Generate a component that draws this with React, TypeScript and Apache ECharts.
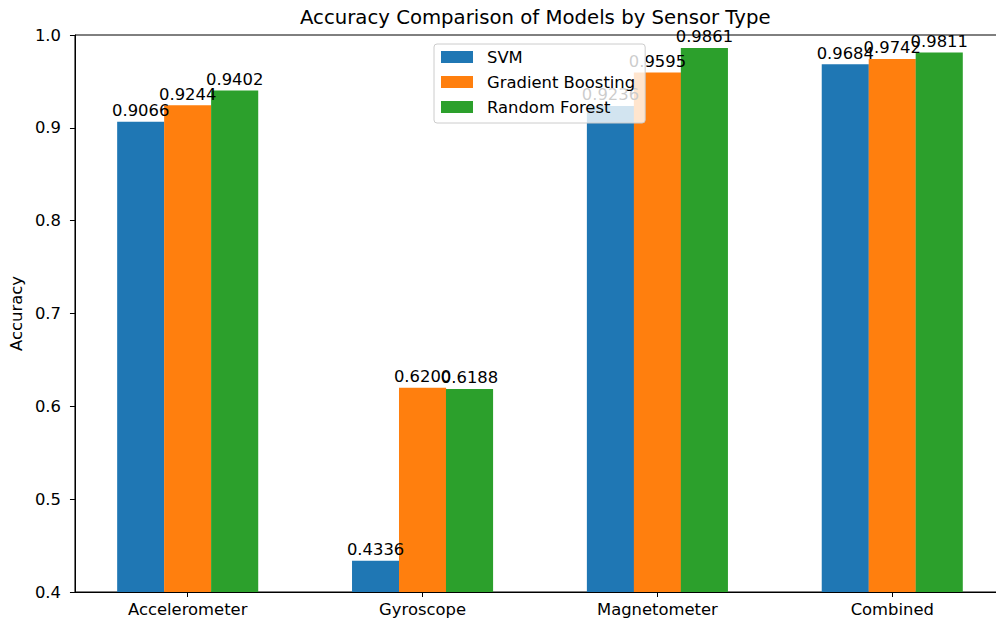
import React, { useEffect, useRef } from "react";
import * as echarts from "echarts";

const categories = ["Accelerometer", "Gyroscope", "Magnetometer", "Combined"];
const seriesNames = ["SVM", "Gradient Boosting", "Random Forest"];
const svmValues = [0.9066, 0.4336, 0.9236, 0.9684];
const gradientBoostingValues = [0.9244, 0.62, 0.9595, 0.9742];
const randomForestValues = [0.9402, 0.6188, 0.9861, 0.9811];
const seriesValues = [svmValues, gradientBoostingValues, randomForestValues];
const barOffsets = [-0.2, 0, 0.2];
const colors = ["#1f77b4", "#ff7f0e", "#2ca02c"];
const categoryPositions = [0, 1, 2, 3];

const FONT = "DejaVu Sans";
const CHART_WIDTH = 1024;
const CHART_HEIGHT = 623;
const GRID_LEFT = 72;
const GRID_TOP = 35;
const GRID_WIDTH = 933;
const GRID_HEIGHT = 557;
const X_MIN = -0.48;
const X_MAX = 3.48;
const BAR_UNITS = 0.2;

export default function App() {
  const ref = useRef<HTMLDivElement>(null);

  useEffect(() => {
    if (!ref.current) return;
    const chart = echarts.init(ref.current, undefined, { renderer: "svg" });
    const barWidth = (BAR_UNITS * GRID_WIDTH) / (X_MAX - X_MIN);

    chart.setOption({
      animation: false,
      backgroundColor: "#ffffff",
      textStyle: { fontFamily: FONT },
      title: {
        text: "Accuracy Comparison of Models by Sensor Type",
        left: 300,
        top: 7,
        padding: 0,
        textStyle: { fontFamily: FONT, fontSize: 19.7, fontWeight: "normal", color: "#000" },
      },
      legend: {
        orient: "vertical",
        left: 434,
        top: 44,
        padding: [5, 10, 8, 7],
        itemWidth: 32,
        itemHeight: 12,
        itemGap: 9,
        icon: "rect",
        backgroundColor: "rgba(255,255,255,0.8)",
        borderColor: "#cccccc",
        borderWidth: 1,
        borderRadius: 3,
        z: 10,
        textStyle: { fontFamily: FONT, fontSize: 16.4, color: "#000", padding: [0, 0, 0, 9] },
        data: seriesNames,
      },
      grid: {
        left: GRID_LEFT,
        top: GRID_TOP,
        width: GRID_WIDTH,
        height: GRID_HEIGHT,
        show: true,
        borderColor: "#000",
        borderWidth: 1,
        backgroundColor: "transparent",
        containLabel: false,
      },
      xAxis: {
        type: "value",
        min: X_MIN,
        max: X_MAX,
        axisLine: { show: true, onZero: false, lineStyle: { color: "#000", width: 1 } },
        axisTick: {
          show: true,
          length: 5,
          customValues: categoryPositions,
          lineStyle: { color: "#000" },
        },
        axisLabel: {
          show: true,
          customValues: categoryPositions,
          formatter: (v: number) => categories[Math.round(v)] ?? "",
          fontFamily: FONT,
          fontSize: 16.4,
          color: "#000",
          margin: 9,
        },
        splitLine: { show: false },
      },
      yAxis: {
        type: "value",
        min: 0.4,
        max: 1.0,
        interval: 0.1,
        name: "Accuracy",
        nameLocation: "middle",
        nameGap: 46,
        nameTextStyle: { fontFamily: FONT, fontSize: 16.4, color: "#000" },
        axisLine: { show: true, onZero: false, lineStyle: { color: "#000", width: 1 } },
        axisTick: { show: true, length: 5, lineStyle: { color: "#000" } },
        axisLabel: {
          formatter: (v: number) => v.toFixed(1),
          fontFamily: FONT,
          fontSize: 16.4,
          color: "#000",
          margin: 14,
        },
        splitLine: { show: false },
      },
      series: seriesNames.map((name, si) => ({
        name,
        type: "bar",
        barWidth,
        barGap: "-100%",
        itemStyle: { color: colors[si] },
        label: {
          show: true,
          position: "top",
          distance: 3,
          fontFamily: FONT,
          fontSize: 16.4,
          color: "#000",
          formatter: (p: any) => Number(p.value[1]).toFixed(4),
        },
        data: seriesValues[si].map((v, ci) => [categoryPositions[ci] + barOffsets[si], v]),
      })),
    });

    return () => chart.dispose();
  }, []);

  return (
    <div
      ref={ref}
      style={{ position: "fixed", left: 0, top: 0, width: CHART_WIDTH, height: CHART_HEIGHT }}
    />
  );
}
